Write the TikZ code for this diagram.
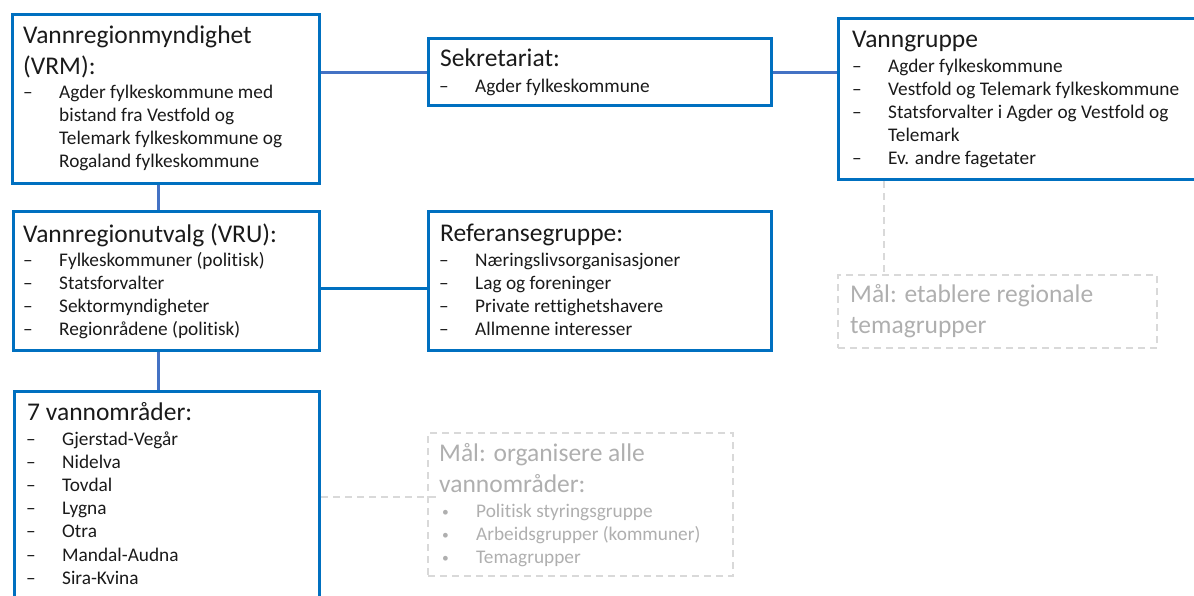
\documentclass[tikz,border=0pt]{standalone}
\usepackage{fontspec}
\setmainfont[Ligatures=NoCommon]{Carlito}
\definecolor{boxblue}{HTML}{0070C0}
\definecolor{linkblue}{HTML}{4472C4}
\definecolor{goalgrey}{HTML}{D9D9D9}
\definecolor{goaltxt}{HTML}{AFAFAF}
\definecolor{txt}{HTML}{1A1A1A}
\newcommand\dashitem[1]{\makebox[36pt][l]{–}#1}
\newcommand\contitem[1]{\makebox[36pt][l]{}#1}
\newcommand\bulitem[1]{\makebox[34pt][l]{\raisebox{1pt}{\scalebox{0.7}{•}}}#1}
\tikzset{
  box/.style={draw=boxblue, line width=3pt, rectangle, inner sep=0pt, anchor=north west},
  goal/.style={draw=goalgrey, line width=2pt, dash pattern=on 7pt off 5pt, rectangle, inner sep=0pt, anchor=north west},
  ttl/.style={anchor=base west, inner sep=0pt, font=\fontsize{25.5}{30.5}\selectfont, text=txt, align=left},
  itm/.style={anchor=base west, inner sep=0pt, font=\fontsize{19.3}{23.2}\selectfont, text=txt, align=left},
  gttl/.style={ttl, text=goaltxt},
  gitm/.style={itm, text=goaltxt},
  link/.style={draw=linkblue, line width=3pt},
  blink/.style={draw=boxblue, line width=3pt},
  glink/.style={draw=goalgrey, line width=2pt, dash pattern=on 7pt off 5pt},
}
\begin{document}
\begin{tikzpicture}[x=1pt,y=-1pt]
\useasboundingbox (0,0) rectangle (1194,595);
% boxes
\node[box, minimum width=307pt, minimum height=169pt] (vrm) at (11,13) {};
\node[box, minimum width=343pt, minimum height=67pt] (sek) at (427,37) {};
\node[box, minimum width=400pt, minimum height=161pt] (vann) at (837,17) {};
\node[box, minimum width=306pt, minimum height=139pt] (vru) at (12,210) {};
\node[box, minimum width=343pt, minimum height=139pt] (ref) at (427,210) {};
\node[box, minimum width=305pt, minimum height=250pt] (seven) at (13,390) {};
\node[goal, minimum width=319pt, minimum height=73pt] (goal1) at (837,274) {};
\node[goal, minimum width=305pt, minimum height=143pt] (goal2) at (427,432) {};
% connectors
\draw[link] (sek.west) -- (sek.west -| vrm.east);
\draw[link] (sek.east) -- (sek.east -| vann.west);
\draw[link] ([xshift=-8pt]vrm.south) -- ([xshift=-8pt]vrm.south |- vru.north);
\draw[blink] ([yshift=-7.5pt]vru.east) -- ([yshift=-7.5pt]vru.east -| ref.west);
\draw[link] ([xshift=-8pt]vru.south) -- ([xshift=-8pt]vru.south |- seven.north);
\coordinate (g1top) at ([xshift=47pt]goal1.north west);
\draw[glink] (g1top |- vann.south) -- (g1top);
\coordinate (g2end) at ([xshift=11pt,yshift=7.5pt]goal2.west);
\draw[glink] (g2end -| seven.east) -- (g2end);
% texts (base anchor = baseline of the last line)
\node[ttl] (vrmt) at (23,74) {Vannregionmyndighet\\(VRM):};
\node[itm] (vrmi) at (23,167.6) {\dashitem{Agder fylkeskommune med}\\\contitem{bistand fra Vestfold og}\\\contitem{Telemark fylkeskommune og}\\\contitem{Rogaland fylkeskommune}};
\node[ttl] (sekt) at (440,66.7) {Sekretariat:};
\node[itm] (seki) at (439,92) {\dashitem{Agder fylkeskommune}};
\node[ttl] (vannt) at (852,47) {Vanngruppe};
\node[itm] (vanni) at (852,164.8) {\dashitem{Agder fylkeskommune}\\\dashitem{Vestfold og Telemark fylkeskommune}\\\dashitem{Statsforvalter i Agder og Vestfold og}\\\contitem{Telemark}\\\dashitem{Ev. andre fagetater}};
\node[ttl] (vrut) at (23,242) {Vannregionutvalg (VRU):};
\node[itm] (vrui) at (23,335.6) {\dashitem{Fylkeskommuner (politisk)}\\\dashitem{Statsforvalter}\\\dashitem{Sektormyndigheter}\\\dashitem{Regionrådene (politisk)}};
\node[ttl] (reft) at (440,241) {Referansegruppe:};
\node[itm] (refi) at (439,335.6) {\dashitem{Næringslivsorganisasjoner}\\\dashitem{Lag og foreninger}\\\dashitem{Private rettighetshavere}\\\dashitem{Allmenne interesser}};
\node[ttl] (sevent) at (27,420) {7 vannområder:};
\node[itm] (seveni) at (26,584.2) {\dashitem{Gjerstad-Vegår}\\\dashitem{Nidelva}\\\dashitem{Tovdal}\\\dashitem{Lygna}\\\dashitem{Otra}\\\dashitem{Mandal-Audna}\\\dashitem{Sira-Kvina}};
\node[gttl] (goal1t) at (850,333) {Mål: etablere regionale\\temagrupper};
\node[gttl] (goal2t) at (439,492) {Mål: organisere alle\\vannområder:};
\node[gitm] (goal2i) at (442,563.4) {\bulitem{Politisk styringsgruppe}\\\bulitem{Arbeidsgrupper (kommuner)}\\\bulitem{Temagrupper}};
\end{tikzpicture}
\end{document}
